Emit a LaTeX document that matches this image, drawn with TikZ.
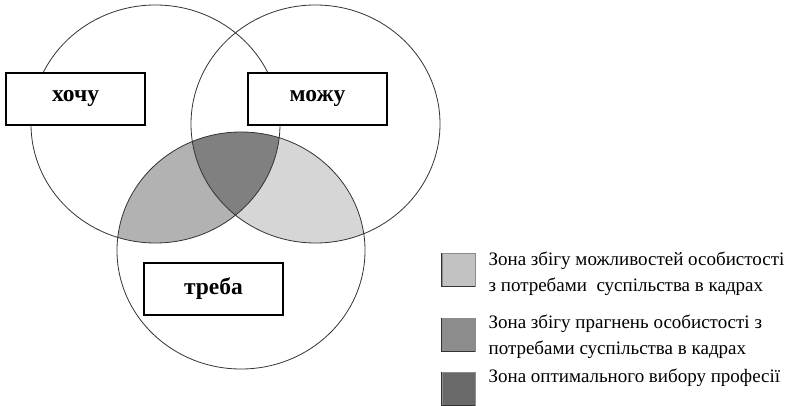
\documentclass[tikz,border=0pt]{standalone}
\usepackage{fontspec}
\setmainfont{Liberation Serif}
\usetikzlibrary{positioning}
\definecolor{zonelight}{gray}{0.84}
\definecolor{zonemid}{gray}{0.70}
\definecolor{zonedark}{gray}{0.50}
\definecolor{keylight}{gray}{0.76}
\definecolor{keymid}{gray}{0.55}
\definecolor{keydark}{gray}{0.41}
\begin{document}
\begin{tikzpicture}[x=1pt,y=-1pt,
		wish/.style={draw=black!80,line width=0.8pt},
		namebox/.style={draw,line width=1.3pt,fill=white,minimum width=139pt,minimum height=52pt,inner sep=0pt,font=\fontsize{23.5}{27}\selectfont\bfseries},
		key/.style={draw=black!45,line width=0.8pt,minimum width=33pt,minimum height=33pt,inner sep=0pt},
		keytext/.style={align=left,inner sep=0pt,font=\fontsize{19}{26}\selectfont}]
	\useasboundingbox (0,0) rectangle (792,406);
	% shaded zones
	\begin{scope}
		\clip (241,250.5) ellipse [x radius=124pt,y radius=118.5pt];
		\fill[zonemid] (155.5,124) ellipse [x radius=124.5pt,y radius=119pt];
		\fill[zonelight] (315.5,124) ellipse [x radius=124.5pt,y radius=119pt];
		\clip (155.5,124) ellipse [x radius=124.5pt,y radius=119pt];
		\fill[zonedark] (315.5,124) ellipse [x radius=124.5pt,y radius=119pt];
	\end{scope}
	% circles
	\draw[wish] (155.5,124) ellipse [x radius=124.5pt,y radius=119pt];
	\draw[wish] (315.5,124) ellipse [x radius=124.5pt,y radius=119pt];
	\draw[wish] (241,250.5) ellipse [x radius=124pt,y radius=118.5pt];
	% labels
	\node [namebox] (want) at (75.5,99) {хочу};
	\node [namebox] (can) at (317.5,99) {можу};
	\node [namebox] (need) at (213.5,289) {треба};
	% legend
	\node [key,fill=keylight] (k1) at (458.5,270) {};
	\node [key,fill=keymid] (k2) at (458.5,334.5) {};
	\node [key,fill=keydark] (k3) at (458.5,389) {};
	\foreach \k in {k1,k2,k3}
		\draw[black!80,line width=1pt] (\k.north west) -- (\k.south west) -- (\k.south east);
	\node [keytext,right=13pt of k1,yshift=-4pt] (t1) {Зона збігу можливостей особистості\\з потребами \ суспільства в кадрах};
	\node [keytext,right=13pt of k2,yshift=-2pt] (t2) {Зона збігу прагнень особистості з\\потребами суспільства в кадрах};
	\node [keytext,right=13pt of k3,yshift=11pt] (t3) {Зона оптимального вибору професії};
\end{tikzpicture}
\end{document}
